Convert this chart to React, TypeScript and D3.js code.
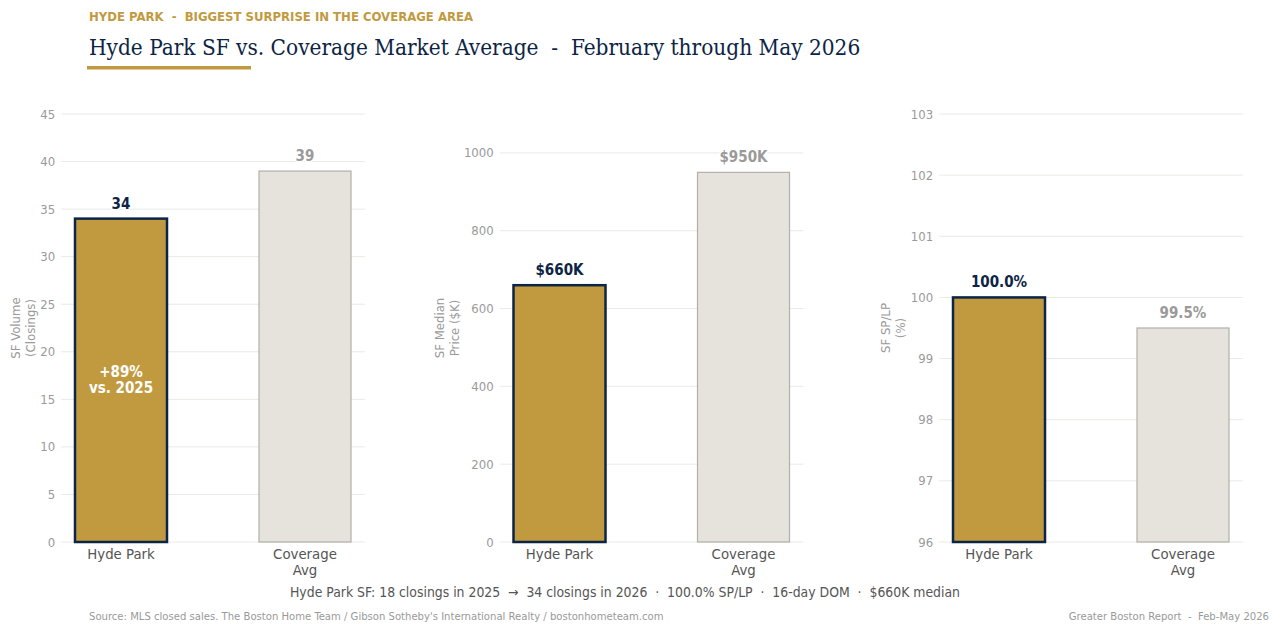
import React from "react";
import * as d3 from "d3";

const categories = ["Hyde Park", "Coverage\nAvg"];
const volumeValues = [34, 39];
const priceValues = [660, 950];
const splpValues = [100.0, 99.5];

const volumeTicks = [0, 5, 10, 15, 20, 25, 30, 35, 40, 45];
const priceTicks = [0, 200, 400, 600, 800, 1000];
const splpTicks = [96, 97, 98, 99, 100, 101, 102, 103];

const GOLD = "#C19A40";
const NAVY = "#0C2445";
const SAND = "#E6E2DC";
const GREY = "#9a9a9a";
const SANS = "DejaVu Sans, sans-serif";

const TOP = 114;
const BOTTOM = 542;

interface PanelProps {
  left: number;
  right: number;
  values: number[];
  domain: [number, number];
  ticks: number[];
  yLabel: string[];
  yLabelOffset: number;
  fmt: (v: number) => string;
  inside?: string[];
}

const Panel: React.FC<PanelProps> = ({ left, right, values, domain, ticks, yLabel, yLabelOffset, fmt, inside }) => {
  const x = d3.scaleLinear().domain([-0.325, 1.325]).range([left, right]);
  const y = d3.scaleLinear().domain(domain).range([BOTTOM, TOP]);
  const bw = x(0.25) - x(0);
  const midY = (TOP + BOTTOM) / 2;
  const labelX = left - yLabelOffset;

  return (
    <g>
      {ticks.map((t) => (
        <g key={t}>
          <line x1={left} x2={right} y1={y(t)} y2={y(t)} stroke="#ebe9e5" strokeWidth={1} />
          <text x={left - 6} y={y(t)} dy="0.35em" textAnchor="end" fontSize={13} fill={GREY} fontFamily={SANS} fontStretch="condensed">
            {t}
          </text>
        </g>
      ))}
      <text
        transform={`translate(${labelX},${midY}) rotate(-90)`}
        textAnchor="middle"
        fontSize={13}
        fill={GREY}
        fontFamily={SANS}
        fontStretch="condensed"
      >
        {yLabel.map((l, i) => (
          <tspan key={i} x={0} dy={i === 0 ? -(yLabel.length - 1) * 7.5 + 4 : 15}>
            {l}
          </tspan>
        ))}
      </text>
      {values.map((v, i) => {
        const hp = i === 0;
        const x0 = x(i) - bw;
        const top = y(v);
        return (
          <g key={i}>
            <rect
              x={x0}
              y={top}
              width={bw * 2}
              height={BOTTOM - top}
              fill={hp ? GOLD : SAND}
              stroke={hp ? NAVY : "#b3afa9"}
              strokeWidth={hp ? 2.5 : 1.2}
            />
            <text
              x={x(i)}
              y={top - 10}
              textAnchor="middle"
              fontSize={15}
              fontWeight="bold"
              fill={hp ? NAVY : GREY}
              stroke="#fff"
              strokeWidth={3}
              paintOrder="stroke"
              fontFamily={SANS}
              fontStretch="condensed"
            >
              {fmt(v)}
            </text>
            {categories[i].split("\n").map((l, j) => (
              <text
                key={j}
                x={x(i)}
                y={BOTTOM + 17 + j * 16}
                textAnchor="middle"
                fontSize={14.8}
                fill="#555"
                fontFamily={SANS}
                fontStretch="condensed"
              >
                {l}
              </text>
            ))}
          </g>
        );
      })}
      {inside && (
        <text
          x={x(0)}
          y={(y(values[0]) + BOTTOM) / 2}
          textAnchor="middle"
          fontSize={15}
          fontWeight="bold"
          fill="#fff"
          fontFamily={SANS}
          fontStretch="condensed"
        >
          {inside.map((l, i) => (
            <tspan key={i} x={x(0)} dy={i === 0 ? -3 : 16}>
              {l}
            </tspan>
          ))}
        </text>
      )}
    </g>
  );
};

export default function App() {
  return (
    <svg width={1280} height={633} style={{ position: "absolute", left: 0, top: 0, background: "#fff" }}>
      <text x={89} y={21} fontSize={13} fontWeight="bold" fill={GOLD} fontFamily={SANS} fontStretch="condensed" style={{ whiteSpace: "pre" }}>
        HYDE PARK  -  BIGGEST SURPRISE IN THE COVERAGE AREA
      </text>
      <text x={89} y={55} fontSize={22.4} fill={NAVY} fontFamily="DejaVu Serif, serif" fontStretch="condensed" style={{ whiteSpace: "pre" }}>
        Hyde Park SF vs. Coverage Market Average  -  February through May 2026
      </text>
      <rect x={87} y={66} width={164} height={3.5} fill={GOLD} />

      <Panel
        left={61.2}
        right={364.8}
        values={volumeValues}
        domain={[0, 45]}
        ticks={volumeTicks}
        yLabel={["SF Volume", "(Closings)"]}
        yLabelOffset={38}
        fmt={(v) => `${v}`}
        inside={["+89%", "vs. 2025"]}
      />
      <Panel
        left={499.7}
        right={803.3}
        values={priceValues}
        domain={[0, 1100]}
        ticks={priceTicks}
        yLabel={["SF Median", "Price ($K)"]}
        yLabelOffset={52}
        fmt={(v) => `$${v}K`}
      />
      <Panel
        left={939.2}
        right={1242.8}
        values={splpValues}
        domain={[96, 103]}
        ticks={splpTicks}
        yLabel={["SF SP/LP", "(%)"]}
        yLabelOffset={46}
        fmt={(v) => `${v.toFixed(1)}%`}
      />

      <text x={625} y={597} textAnchor="middle" fontSize={13.85} fill="#555" fontFamily={SANS} fontStretch="condensed" style={{ whiteSpace: "pre" }}>
        Hyde Park SF: 18 closings in 2025  →  34 closings in 2026  ·  100.0% SP/LP  ·  16-day DOM  ·  $660K median
      </text>
      <text x={89} y={620} fontSize={11.2} fill={GREY} fontFamily={SANS} fontStretch="condensed">
        Source: MLS closed sales. The Boston Home Team / Gibson Sotheby's International Realty / bostonhometeam.com
      </text>
      <text x={1269} y={620} textAnchor="end" fontSize={11.2} fill={GREY} fontFamily={SANS} fontStretch="condensed" style={{ whiteSpace: "pre" }}>
        Greater Boston Report  -  Feb-May 2026
      </text>
    </svg>
  );
}
